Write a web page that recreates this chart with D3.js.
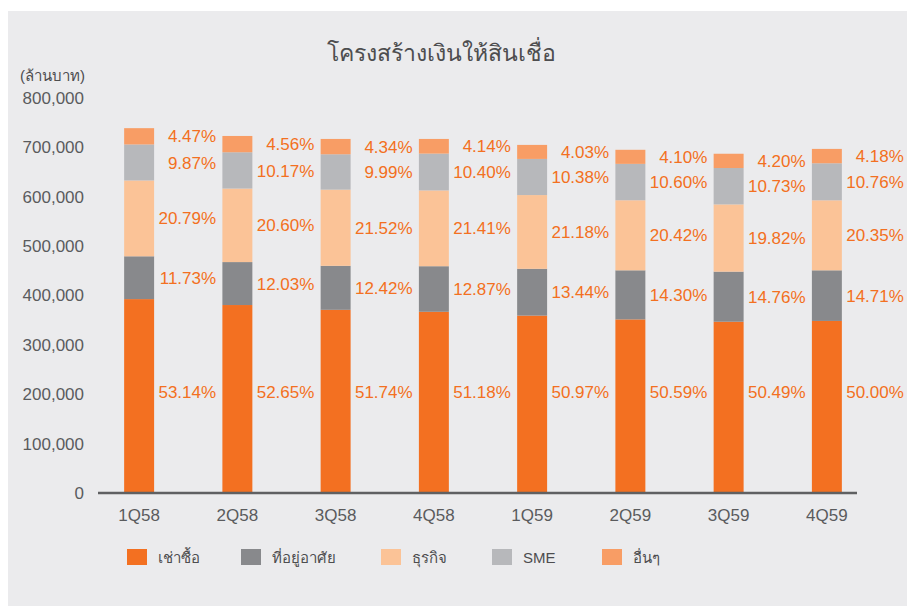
<html>
<head>
<meta charset="utf-8">
<style>
  body { margin:0; background:#fff; }
  text { font-family: "Liberation Sans", "Noto Sans", "DejaVu Sans", sans-serif; }
</style>
</head>
<body>
<script src="https://cdn.jsdelivr.net/npm/d3@7"></script>
<script>
var width = 907, height = 606;

// quarters
var quarters = ["1Q58","2Q58","3Q58","4Q58","1Q59","2Q59","3Q59","4Q59"];
// series values (million baht), bottom to top
var hirePurchase = [392700, 380700, 371000, 367000, 359300, 351600, 346900, 348500];
var housing      = [ 86700,  87000,  89100,  92300,  94800,  99400, 101400, 102500];
var business     = [153600, 148900, 154300, 153500, 149300, 141900, 136200, 141800];
var sme          = [ 72900,  73500,  71600,  74600,  73200,  73700,  73700,  75000];
var others       = [ 33000,  33000,  31100,  29700,  28400,  28500,  28900,  29100];
// share labels
var pctHire     = ["53.14%","52.65%","51.74%","51.18%","50.97%","50.59%","50.49%","50.00%"];
var pctHousing  = ["11.73%","12.03%","12.42%","12.87%","13.44%","14.30%","14.76%","14.71%"];
var pctBusiness = ["20.79%","20.60%","21.52%","21.41%","21.18%","20.42%","19.82%","20.35%"];
var pctSme      = ["9.87%","10.17%","9.99%","10.40%","10.38%","10.60%","10.73%","10.76%"];
var pctOthers   = ["4.47%","4.56%","4.34%","4.14%","4.03%","4.10%","4.20%","4.18%"];
var seriesNames = ["เช่าซื้อ","ที่อยู่อาศัย","ธุรกิจ","SME","อื่นๆ"];
var seriesColors = ["#f37021","#88898c","#fbc397","#b7b8bb","#f89d65"];
var yTicks = [0,100000,200000,300000,400000,500000,600000,700000,800000];

var seriesVals = [hirePurchase, housing, business, sme, others];
var seriesPct = [pctHire, pctHousing, pctBusiness, pctSme, pctOthers];

var rows = quarters.map(function(q,i){
  var r = {q:q};
  seriesNames.forEach(function(n,k){ r[n] = seriesVals[k][i]; });
  return r;
});
var stacked = d3.stack().keys(seriesNames)(rows);

var svg = d3.select("body").append("svg")
  .attr("width", width).attr("height", height);

svg.append("rect").attr("x",8).attr("y",11)
  .attr("width", width-8).attr("height", height-11)
  .attr("fill","#ebebed");

var x = d3.scaleBand().domain(quarters).range([90, 876])
  .paddingInner(0.695).paddingOuter(0.3475);
var y = d3.scaleLinear().domain([0,800000]).range([493,98]);

// title
svg.append("text").attr("x",441).attr("y",61)
  .attr("text-anchor","middle").attr("font-size",23)
  .attr("fill","#4d4d4f").text("โครงสร้างเงินให้สินเชื่อ");
svg.append("text").attr("x",20).attr("y",81)
  .attr("font-size",15).attr("fill","#4d4d4f").text("(ล้านบาท)");

// y axis
var ya = svg.append("g").attr("transform","translate(98,0)")
  .call(d3.axisLeft(y).tickValues(yTicks).tickSize(0).tickPadding(14).tickFormat(d3.format(",")));
ya.select(".domain").remove();
ya.selectAll("text").attr("font-size",17).attr("fill","#5a5b5d")
  .style("font-family","Liberation Sans, sans-serif");

// bars
var g = svg.append("g");
g.selectAll("g.s").data(stacked).join("g").attr("class","s")
  .attr("fill", function(d,k){ return seriesColors[k]; })
  .selectAll("rect").data(function(d){ return d; }).join("rect")
  .attr("x", function(d){ return x(d.data.q); })
  .attr("width", x.bandwidth())
  .attr("y", function(d){ return y(d[1]); })
  .attr("height", function(d){ return y(d[0]) - y(d[1]); });

// x axis line
svg.append("line").attr("x1",98).attr("x2",857)
  .attr("y1",493).attr("y2",493)
  .attr("stroke","#5f6062").attr("stroke-width",2.5);

var xa = svg.append("g").attr("transform","translate(0,493)")
  .call(d3.axisBottom(x).tickSize(0).tickPadding(16));
xa.select(".domain").remove();
xa.selectAll("text").attr("font-size",17).attr("fill","#5a5b5d")
  .style("font-family","Liberation Sans, sans-serif");

// percentage labels
stacked.forEach(function(s,k){
  g.selectAll("text.p"+k).data(s).join("text").attr("class","p"+k)
    .attr("x", function(d){ return x(d.data.q) + x.bandwidth() + 62; })
    .attr("y", function(d){ return k==0 ? y(205000) : (y(d[0])+y(d[1]))/2; })
    .attr("dy","0.36em")
    .attr("text-anchor","end")
    .attr("font-size",17)
    .attr("fill","#f37021")
    .text(function(d,i){ return seriesPct[k][i]; });
});

// legend
var legendX = [127, 241, 381, 492, 602];
seriesNames.forEach(function(n,k){
  svg.append("rect").attr("x",legendX[k]).attr("y",549)
    .attr("width",20).attr("height",16).attr("fill",seriesColors[k]);
  svg.append("text").attr("x",legendX[k]+31).attr("y",563)
    .attr("font-size",15).attr("fill","#4d4d4f").text(n);
});
</script>
</body>
</html>
